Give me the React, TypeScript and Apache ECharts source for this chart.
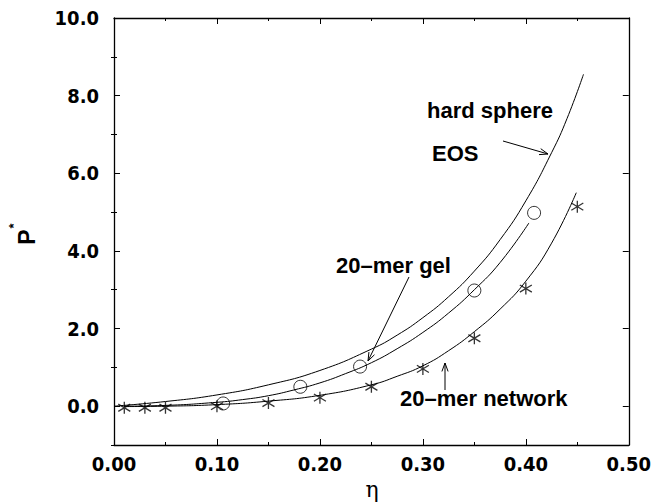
import React, { useEffect, useRef } from "react";
import * as echarts from "echarts";

// ---- data ----
const yMajorTicks = [0, 2, 4, 6, 8, 10];
const yMinorTicks = [-1, 1, 3, 5, 7, 9];

// hard sphere EOS curve (eta, P*)
const hardSphereEOS: [number, number][] = [
  [0.0, 0.0], [0.05, 0.12], [0.1, 0.29], [0.15, 0.55], [0.2, 0.92],
  [0.25, 1.47], [0.275, 1.83], [0.3, 2.28], [0.325, 2.82], [0.35, 3.48],
  [0.375, 4.29], [0.4, 5.29], [0.425, 6.53], [0.44, 7.41], [0.456, 8.55],
];
// 20-mer gel fitted curve
const gelFit: [number, number][] = [
  [0.01, 0.0], [0.05, 0.02], [0.1, 0.1], [0.125, 0.17], [0.15, 0.27], [0.175, 0.42],
  [0.2, 0.6], [0.225, 0.84], [0.25, 1.12], [0.275, 1.48], [0.3, 1.9], [0.325, 2.4],
  [0.35, 3.0], [0.375, 3.7], [0.403, 4.72],
];
// 20-mer network fitted curve
const networkFit: [number, number][] = [
  [0.01, -0.01], [0.05, 0.0], [0.1, 0.04], [0.15, 0.13], [0.2, 0.28],
  [0.25, 0.55], [0.275, 0.77], [0.3, 1.04], [0.325, 1.43], [0.35, 1.92],
  [0.375, 2.5], [0.4, 3.22], [0.425, 4.2], [0.449, 5.5],
];
// 20-mer gel simulation points (circles)
const gelData: [number, number][] = [
  [0.106, 0.07], [0.181, 0.5], [0.239, 1.02], [0.35, 2.98], [0.408, 4.98],
];
// 20-mer network simulation points (stars)
const networkData: [number, number][] = [
  [0.01, -0.04], [0.03, -0.04], [0.05, -0.04], [0.1, 0.0], [0.15, 0.08],
  [0.2, 0.22], [0.25, 0.5], [0.3, 0.96], [0.35, 1.75], [0.4, 3.03], [0.45, 5.14],
];

const TICK_FONT = "'DejaVu Sans Condensed', 'Liberation Sans Narrow', 'Liberation Sans', Arial, sans-serif";
const ANN_FONT = "bold 22px 'Liberation Sans', Arial, sans-serif";
const STAR = "path://M0,-10L0,10M-8,-6L8,6M-8,6L8,-6";

function arrow(x1: number, y1: number, x2: number, y2: number) {
  const a = Math.atan2(y2 - y1, x2 - x1);
  const L = 9;
  const w = 0.35;
  const p1 = [x2 - L * Math.cos(a - w), y2 - L * Math.sin(a - w)];
  const p2 = [x2 - L * Math.cos(a + w), y2 - L * Math.sin(a + w)];
  return [
    { type: "line", shape: { x1, y1, x2, y2 }, style: { stroke: "#000", lineWidth: 1 }, z: 100 },
    { type: "polyline", shape: { points: [p1, [x2, y2], p2] }, style: { stroke: "#000", lineWidth: 1, fill: null }, z: 100 },
  ];
}

export default function App() {
  const ref = useRef<HTMLDivElement>(null);
  useEffect(() => {
    document.body.style.margin = "0";
    const chart = echarts.init(ref.current!, null, { renderer: "svg" });
    const axisLine = { onZero: false, lineStyle: { color: "#000", width: 1.3 } };
    const tickStyle = { color: "#000", width: 1 };
    const xCommon = {
      type: "value", min: 0, max: 0.5, interval: 0.1,
      axisLine, splitLine: { show: false }, minorSplitLine: { show: false },
      axisTick: { inside: true, length: 6, lineStyle: tickStyle },
      minorTick: { show: true, splitNumber: 2, length: 3, lineStyle: tickStyle },
    };
    const yBase = { type: "value", min: -1, max: 10, splitLine: { show: false } };
    const yMajor = (position: string, labels: boolean) => ({
      ...yBase, position, axisLine,
      axisTick: { inside: true, length: 6, lineStyle: tickStyle, customValues: yMajorTicks },
      axisLabel: {
        show: labels, customValues: yMajorTicks, margin: 15,
        formatter: (v: number) => v.toFixed(1),
        fontFamily: TICK_FONT, fontWeight: "bold", fontSize: 20, color: "#000",
      },
    });
    const yMinor = (position: string) => ({
      ...yBase, position, axisLine: { show: false },
      axisTick: { inside: true, length: 3, lineStyle: tickStyle, customValues: yMinorTicks },
      axisLabel: { show: false },
    });
    const lineSeries = (data: [number, number][]) => ({
      type: "line", data, showSymbol: false, smooth: 0.5,
      xAxisIndex: 0, yAxisIndex: 0,
      lineStyle: { color: "#000", width: 1 }, silent: true,
    });
    chart.setOption({
      animation: false,
      backgroundColor: "#fff",
      grid: { left: 114, right: 24, top: 18, bottom: 58 },
      xAxis: [
        {
          ...xCommon, position: "bottom",
          axisLabel: {
            margin: 9, formatter: (v: number) => v.toFixed(2),
            fontFamily: TICK_FONT, fontWeight: "bold", fontSize: 20, color: "#000",
          },
        },
        { ...xCommon, position: "top", axisLabel: { show: false } },
      ],
      yAxis: [yMajor("left", true), yMinor("left"), yMajor("right", false), yMinor("right")],
      series: [
        lineSeries(hardSphereEOS),
        lineSeries(gelFit),
        lineSeries(networkFit),
        {
          type: "scatter", data: gelData, symbol: "circle", symbolSize: 13,
          itemStyle: { color: "rgba(0,0,0,0)", borderColor: "#000", borderWidth: 1 },
        },
        {
          type: "scatter", data: networkData, symbol: STAR, symbolSize: 12,
          itemStyle: { color: "rgba(0,0,0,0)", borderColor: "#000", borderWidth: 1.3 },
        },
      ],
      graphic: [
        { type: "text", x: 427, y: 110, style: { text: "hard sphere", font: ANN_FONT, fill: "#000", verticalAlign: "middle" } },
        { type: "text", x: 432, y: 153, style: { text: "EOS", font: ANN_FONT, fill: "#000", verticalAlign: "middle" } },
        { type: "text", x: 336, y: 265, style: { text: "20–mer gel", font: ANN_FONT, fill: "#000", verticalAlign: "middle" } },
        { type: "text", x: 400, y: 398, style: { text: "20–mer network", font: ANN_FONT, fill: "#000", verticalAlign: "middle" } },
        ...arrow(503, 141, 548, 154),
        ...arrow(409, 277, 368, 361),
        ...arrow(445, 390, 445, 363),
        {
          type: "text", x: 372, y: 489,
          style: { text: "η", font: "normal 22px 'DejaVu Serif', 'Liberation Serif', serif", fill: "#000", align: "center", verticalAlign: "middle" },
        },
        {
          type: "group", x: 27, y: 237, rotation: Math.PI / 2,
          children: [
            { type: "text", style: { text: "P", x: 0, y: 0, font: "bold 23px 'Liberation Sans', Arial, sans-serif", fill: "#000", align: "center", verticalAlign: "middle" } },
            { type: "text", style: { text: "*", x: 11, y: -14, font: "bold 13px 'Liberation Sans', Arial, sans-serif", fill: "#000", align: "center", verticalAlign: "middle" } },
          ],
        },
      ],
    });
    return () => chart.dispose();
  }, []);
  return <div ref={ref} style={{ width: 654, height: 503 }} />;
}
